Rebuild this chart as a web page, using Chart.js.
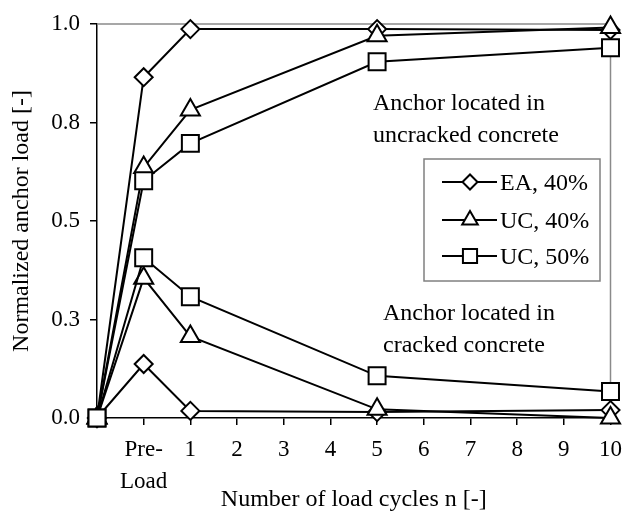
<!DOCTYPE html>
<html>
<head>
<meta charset="utf-8">
<script src="https://cdn.jsdelivr.net/npm/chart.js@4/dist/chart.umd.min.js"></script>
<style>
  html, body { margin: 0; padding: 0; background: #fff; }
  #wrap { width: 631px; height: 512px; position: relative; }
</style>
</head>
<body>
<div id="wrap"><canvas id="c" width="631" height="512"></canvas></div>
<script>
// x positions: -1 = unloaded start, 0 = "Pre-Load", then number of load cycles
const cycles = [-1, 0, 1, 5, 10];
const xTickValues = [-1, 0, 1, 2, 3, 4, 5, 6, 7, 8, 9, 10];
const xTickLabels = ['', ['Pre-', 'Load'], '1', '2', '3', '4', '5', '6', '7', '8', '9', '10'];
const yTickValues = [0, 0.25, 0.5, 0.75, 1.0];

// Anchor located in uncracked concrete
const eaUncracked  = [0, 0.865, 0.987, 0.987, 0.985];
const uc40Uncracked = [0, 0.636, 0.782, 0.970, 0.991];
const uc50Uncracked = [0, 0.602, 0.697, 0.904, 0.940];
// Anchor located in cracked concrete
const eaCracked   = [0, 0.137, 0.018, 0.015, 0.020];
const uc40Cracked = [0, 0.355, 0.207, 0.022, 0.000];
const uc50Cracked = [0, 0.407, 0.308, 0.107, 0.067];

const seriesNames = ['EA, 40%', 'UC, 40%', 'UC, 50%'];
const seriesMarkers = ['rectRot', 'triangle', 'rect'];
const annotationTexts = [['Anchor located in', 'uncracked concrete'], ['Anchor located in', 'cracked concrete']];

const FONT = "'Liberation Serif', 'Times New Roman', serif";
const markerRadius = { rectRot: 9, triangle: 11, rect: 12 };

function pts(vals) { return vals.map((v, i) => ({ x: cycles[i], y: v })); }
function ds(label, vals, marker, order) {
  return {
    label: label,
    data: pts(vals),
    borderColor: '#000',
    borderWidth: 2,
    backgroundColor: '#fff',
    pointStyle: marker,
    pointRadius: markerRadius[marker],
    pointBorderWidth: 2,
    pointBackgroundColor: '#fff',
    pointBorderColor: '#000',
    tension: 0,
    clip: false,
    order: order
  };
}

const plotFrame = {
  id: 'plotFrame',
  beforeDatasetsDraw(chart) {
    const { ctx, chartArea: a } = chart;
    ctx.save();
    ctx.strokeStyle = '#8a8a8a';
    ctx.lineWidth = 1.5;
    ctx.beginPath();
    ctx.moveTo(a.left, a.top);
    ctx.lineTo(a.right, a.top);
    ctx.lineTo(a.right, a.bottom);
    ctx.stroke();
    ctx.restore();
  }
};

const boxLegend = {
  id: 'boxLegend',
  afterDraw(chart) {
    const ctx = chart.ctx;
    ctx.save();
    // annotations
    ctx.fillStyle = '#000';
    ctx.font = '24px ' + FONT;
    ctx.textAlign = 'left';
    ctx.textBaseline = 'alphabetic';
    ctx.fillText(annotationTexts[0][0], 373, 110);
    ctx.fillText(annotationTexts[0][1], 373, 142);
    ctx.fillText(annotationTexts[1][0], 383, 320);
    ctx.fillText(annotationTexts[1][1], 383, 352);
    // legend box
    ctx.fillStyle = '#fff';
    ctx.fillRect(424, 159, 176, 122);
    ctx.strokeStyle = '#808080';
    ctx.lineWidth = 1.5;
    ctx.strokeRect(424, 159, 176, 122);
    const rows = [182, 220, 256];
    const radii = { rectRot: 7.5, triangle: 9, rect: 10 };
    for (let i = 0; i < 3; i++) {
      const y = rows[i];
      ctx.strokeStyle = '#000';
      ctx.lineWidth = 2;
      ctx.beginPath();
      ctx.moveTo(442, y);
      ctx.lineTo(497, y);
      ctx.stroke();
      ctx.fillStyle = '#fff';
      Chart.helpers.drawPoint(ctx, { pointStyle: seriesMarkers[i], radius: radii[seriesMarkers[i]], rotation: 0, borderWidth: 2 }, 470, y);
      ctx.fillStyle = '#000';
      ctx.font = '24px ' + FONT;
      ctx.textBaseline = 'alphabetic';
      ctx.fillText(seriesNames[i], 500, y + 8);
    }
    ctx.restore();
  }
};

new Chart(document.getElementById('c'), {
  type: 'line',
  data: {
    datasets: [
      ds(seriesNames[0], eaUncracked, seriesMarkers[0], 3),
      ds(seriesNames[1], uc40Uncracked, seriesMarkers[1], 2),
      ds(seriesNames[2], uc50Uncracked, seriesMarkers[2], 1),
      ds(seriesNames[0], eaCracked, seriesMarkers[0], 3),
      ds(seriesNames[1], uc40Cracked, seriesMarkers[1], 2),
      ds(seriesNames[2], uc50Cracked, seriesMarkers[2], 1)
    ]
  },
  options: {
    responsive: false,
    animation: false,
    events: [],
    layout: { padding: { top: 24, right: 11, bottom: 0, left: 0 } },
    plugins: { legend: { display: false }, tooltip: { enabled: false } },
    scales: {
      x: {
        type: 'linear',
        min: -1,
        max: 10,
        afterBuildTicks: (s) => { s.ticks = xTickValues.map(v => ({ value: v })); },
        afterFit: (s) => { s.height = 94; },
        ticks: {
          autoSkip: false,
          maxRotation: 0,
          padding: 9,
          color: '#000',
          font: { family: FONT, size: 23, lineHeight: 1.4 },
          callback: (v) => xTickLabels[xTickValues.indexOf(v)]
        },
        grid: { drawOnChartArea: false, drawTicks: true, tickLength: 7, color: '#000', lineWidth: 1.5 },
        border: { display: true, color: '#000', width: 1.5 },
        title: {
          display: true,
          text: 'Number of load cycles n [-]',
          color: '#000',
          font: { family: FONT, size: 24, lineHeight: 1 },
          padding: { top: 0, bottom: 0 }
        }
      },
      y: {
        min: 0,
        max: 1,
        afterBuildTicks: (s) => { s.ticks = yTickValues.map(v => ({ value: v })); },
        afterFit: (s) => { s.width = 97; },
        ticks: {
          padding: 10,
          color: '#000',
          font: { family: FONT, size: 23 },
          callback: (v) => Number(v).toFixed(1)
        },
        grid: { drawOnChartArea: false, drawTicks: true, tickLength: 7, color: '#000', lineWidth: 1.5 },
        border: { display: true, color: '#000', width: 1.5 },
        title: {
          display: true,
          text: 'Normalized anchor load [-]',
          color: '#000',
          font: { family: FONT, size: 24, lineHeight: 1 },
          padding: { top: 10, bottom: 0 }
        }
      }
    }
  },
  plugins: [plotFrame, boxLegend]
});
</script>
</body>
</html>
